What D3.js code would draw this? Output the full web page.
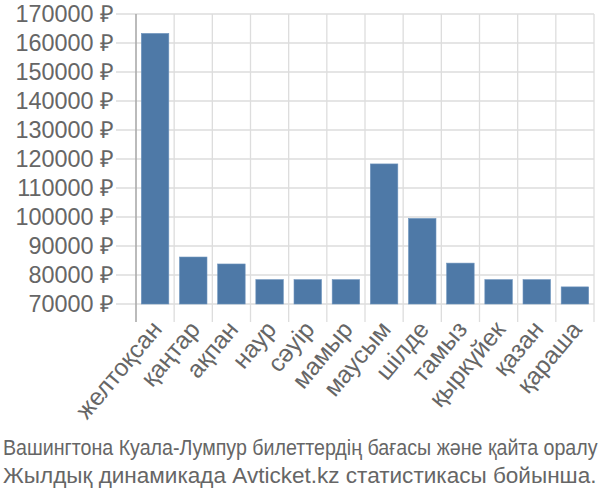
<!DOCTYPE html>
<html><head><meta charset="utf-8">
<script src="https://cdn.jsdelivr.net/npm/d3@7"></script>
<style>body{margin:0;background:#fff}svg{display:block}</style>
</head><body>
<svg id="c" width="600" height="500"></svg>
<script>
const months = ["желтоқсан","қаңтар","ақпан","наур","сәуір","мамыр","маусым","шілде","тамыз","қыркүйек","қазан","қараша"];
const prices = [163300, 86200, 83800, 78400, 78400, 78400, 118300, 99500, 84100, 78400, 78400, 75900];
const yTicks = [70000, 80000, 90000, 100000, 110000, 120000, 130000, 140000, 150000, 160000, 170000];
const captionLines = ["Вашингтона Куала-Лумпур билеттердің бағасы және қайта оралу", "Жылдық динамикада Avticket.kz статистикасы бойынша."];

const svg = d3.select("#c");
const pL = 136, pR = 594, pT = 14, pB = 304;
const x = d3.scaleBand().domain(months).range([pL, pR]).paddingInner(0.28).paddingOuter(0.14);
const y = d3.scaleLinear().domain([70000, 170000]).range([pB, pT]);
const font = "'Liberation Sans', Arial, sans-serif";

// horizontal grid
svg.append("g").selectAll("line").data(yTicks).join("line")
  .attr("x1", 116).attr("x2", pR).attr("y1", d => y(d)).attr("y2", d => y(d))
  .attr("stroke", "#ddd").attr("stroke-width", 1.3);
// vertical grid at band boundaries
const bounds = d3.range(months.length + 1).map(i => pL + i * (pR - pL) / months.length);
svg.append("g").selectAll("line").data(bounds.slice(1)).join("line")
  .attr("x1", d => d).attr("x2", d => d).attr("y1", pT).attr("y2", 322)
  .attr("stroke", "#ddd").attr("stroke-width", 1.3);

// bars
svg.append("g").selectAll("rect").data(prices).join("rect")
  .attr("x", (d, i) => x(months[i])).attr("width", x.bandwidth())
  .attr("y", d => y(d)).attr("height", d => pB - y(d))
  .attr("fill", "#4e79a7").attr("stroke", "#6d93bd").attr("stroke-width", 0.6);

// y axis line
svg.append("line").attr("x1", pL).attr("x2", pL).attr("y1", pT).attr("y2", 322)
  .attr("stroke", "#aaa").attr("stroke-width", 1.6);

// y labels
svg.append("g").selectAll("text").data(yTicks).join("text")
  .attr("x", 114).attr("y", d => y(d)).attr("dy", "0.35em")
  .attr("text-anchor", "end").attr("font-family", font).attr("font-size", 23.4)
  .attr("fill", "#666").text(d => d + " ₽");

// x labels
svg.append("g").selectAll("text").data(months).join("text")
  .attr("transform", d => `translate(${x(d) + x.bandwidth() / 2 + 8},${330}) rotate(-50)`)
  .attr("text-anchor", "end").attr("font-family", font).attr("font-size", 24.5)
  .attr("fill", "#666").text(d => d);

// caption, horizontally scaled to fit
const targets = [595, 594];
svg.append("g").selectAll("text").data(captionLines).join("text")
  .attr("font-family", font).attr("font-size", 21.5).attr("fill", "#666").text(d => d)
  .each(function(d, i) {
    const w = this.getComputedTextLength();
    const s = targets[i] / w;
    d3.select(this).attr("transform", `translate(3,${455 + i * 28}) scale(${s},1)`);
  });
</script>
</body></html>
